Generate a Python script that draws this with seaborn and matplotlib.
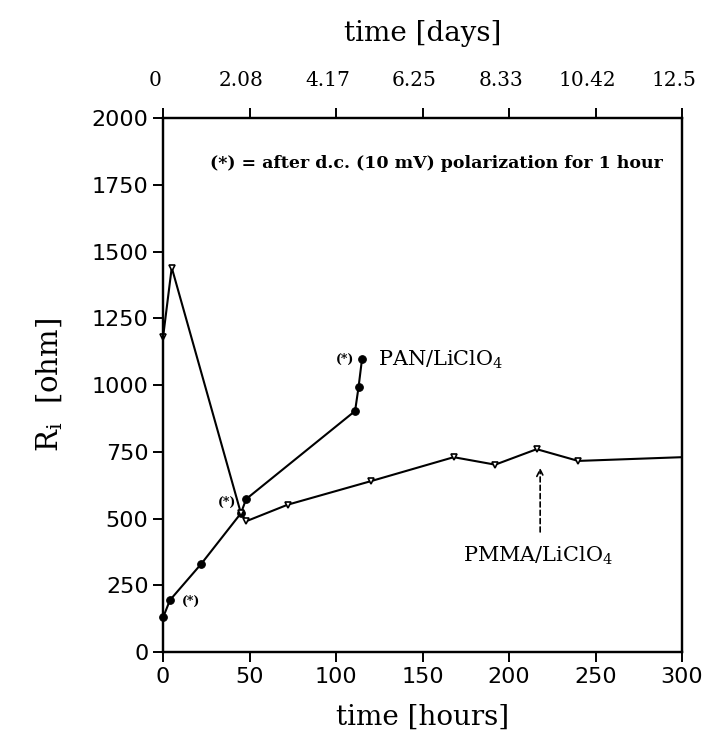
import numpy as np
import pandas as pd
import matplotlib
matplotlib.use("Agg")
import matplotlib.pyplot as plt
from matplotlib.transforms import ScaledTranslation
import seaborn as sns

# ---- data ----
pan_hours = [0, 4, 22, 45, 48, 111, 113, 115]
pan_ohm = [130, 195, 330, 520, 573, 903, 992, 1097]

pmma_hours = [0, 5, 45, 48, 72, 120, 168, 192, 216, 240, 300]
pmma_ohm = [1180, 1440, 520, 490, 552, 640, 730, 702, 760, 716, 730]

hour_ticks = [0, 50, 100, 150, 200, 250, 300]
day_labels = ["0", "2.08", "4.17", "6.25", "8.33", "10.42", "12.5"]
ohm_ticks = [0, 250, 500, 750, 1000, 1250, 1500, 1750, 2000]

star_x = [16, 37, 105]
star_y = [190, 560, 1095]

sns.set_theme(style="ticks")
plt.rcParams["font.family"] = ["DejaVu Sans"]
plt.rcParams["mathtext.fontset"] = "dejavuserif"
plt.rcParams["text.color"] = "black"
plt.rcParams["axes.labelcolor"] = "black"

pan_df = pd.DataFrame({"hours": pan_hours, "ohm": pan_ohm})
pmma_df = pd.DataFrame({"hours": pmma_hours, "ohm": pmma_ohm})

fig = plt.figure(figsize=(7.06, 7.47), dpi=100)
ax = fig.add_axes([0.231, 0.127, 0.735, 0.715])

sns.lineplot(data=pan_df, x="hours", y="ohm", ax=ax, sort=False, estimator=None,
             color="black", linewidth=1.5, marker="o", markersize=5.5,
             markerfacecolor="black", markeredgecolor="black", clip_on=False)
sns.lineplot(data=pmma_df, x="hours", y="ohm", ax=ax, sort=False, estimator=None,
             color="black", linewidth=1.5, marker="v", markersize=5,
             markerfacecolor="white", markeredgecolor="black", markeredgewidth=1.2,
             markevery=list(range(len(pmma_hours) - 1)), clip_on=False)

ax.set_xlim(0, 300)
ax.set_ylim(0, 2000)
ax.set_xticks(hour_ticks)
ax.set_yticks(ohm_ticks)
ax.tick_params(direction="out", length=7, width=1.4, labelsize=16, colors="black")
for s in ax.spines.values():
    s.set_linewidth(1.6)
    s.set_color("black")

ax.set_xlabel("time [hours]", family="DejaVu Serif", fontsize=20, labelpad=12,
              color="black")
ax.set_ylabel(r"R$_\mathrm{i}$  [ohm]", family="DejaVu Serif", fontsize=21,
              labelpad=19, color="black")

ax2 = ax.twiny()
ax2.set_xlim(0, 300)
ax2.set_xticks(hour_ticks)
ax2.set_xticklabels(day_labels, family="DejaVu Serif", fontsize=14.5)
ax2.tick_params(direction="out", length=7, width=1.4, colors="black", pad=13)
ax2.set_xlabel("time [days]", family="DejaVu Serif", fontsize=20, labelpad=22,
               color="black")
for s in ax2.spines.values():
    s.set_linewidth(1.6)
    s.set_color("black")
shift = ScaledTranslation(-8 / 100, 0, fig.dpi_scale_trans)
for lab in ax2.get_xticklabels():
    lab.set_transform(lab.get_transform() + shift)

# annotations
for sx, sy in zip(star_x, star_y):
    ax.text(sx, sy, "(*)", fontsize=9, fontweight="bold", family="DejaVu Serif",
            ha="center", va="center", color="black")

ax.text(158, 1830, "(*) = after d.c. (10 mV) polarization for 1 hour",
        fontsize=12.5, fontweight="bold", family="DejaVu Serif", ha="center",
        va="center", color="black")

ax.text(124, 1095, r"PAN/LiClO$_4$", fontsize=15, family="DejaVu Serif",
        ha="left", va="center", color="black")
ax.text(217, 360, r"PMMA/LiClO$_4$", fontsize=15, family="DejaVu Serif",
        ha="center", va="center", color="black")
ax.annotate("", xy=(218, 690), xytext=(218, 450),
            arrowprops=dict(arrowstyle="->", linestyle=(0, (3, 2)), color="black",
                            linewidth=1.2, shrinkA=0, shrinkB=0))

fig.savefig("out.png", dpi=100)
